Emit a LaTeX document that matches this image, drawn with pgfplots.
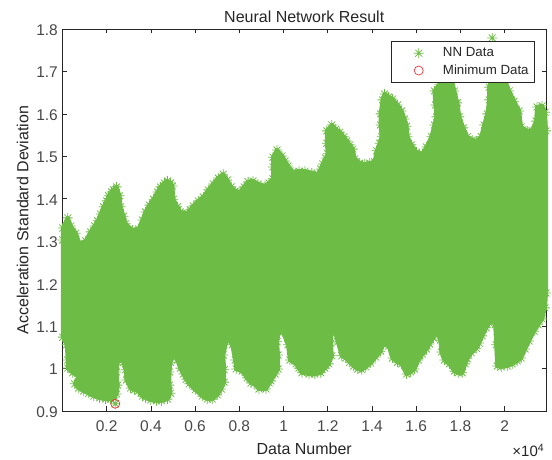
\documentclass[border=0pt]{standalone}
\usepackage{pgfplots}
\usepackage{pgfplotstable}
\pgfplotsset{compat=1.18}
\usepackage{fontspec}
\setmainfont{Liberation Sans}
\definecolor{nngreen}{RGB}{108,188,69}
\definecolor{axgray}{gray}{0.15}
\definecolor{minred}{RGB}{238,50,60}
\pgfdeclareplotmark{nnstar}{%
  \pgfsetroundcap
  \pgfpathmoveto{\pgfqpoint{-\pgfplotmarksize}{0pt}}\pgfpathlineto{\pgfqpoint{\pgfplotmarksize}{0pt}}%
  \pgfpathmoveto{\pgfqpoint{0pt}{-\pgfplotmarksize}}\pgfpathlineto{\pgfqpoint{0pt}{\pgfplotmarksize}}%
  \pgfpathmoveto{\pgfqpoint{-.707\pgfplotmarksize}{-.707\pgfplotmarksize}}\pgfpathlineto{\pgfqpoint{.707\pgfplotmarksize}{.707\pgfplotmarksize}}%
  \pgfpathmoveto{\pgfqpoint{-.707\pgfplotmarksize}{.707\pgfplotmarksize}}\pgfpathlineto{\pgfqpoint{.707\pgfplotmarksize}{-.707\pgfplotmarksize}}%
  \pgfusepathqstroke}
\pgfplotstableread{
x y
20 1.303
20 1.331
243 1.355
378 1.336
604 1.319
784 1.293
1054 1.301
1280 1.322
1460 1.336
1595 1.348
1730 1.364
1865 1.381
2000 1.395
2090 1.407
2225 1.416
2316 1.421
2451 1.428
2586 1.407
2631 1.381
2766 1.359
2856 1.341
3171 1.326
3442 1.329
3622 1.350
3757 1.369
3937 1.385
4118 1.399
4298 1.416
4433 1.428
4613 1.437
4748 1.442
4884 1.437
4974 1.430
5019 1.399
5199 1.381
5334 1.369
5649 1.366
5784 1.374
5920 1.383
6145 1.395
6370 1.404
6595 1.421
6821 1.435
7046 1.449
7271 1.458
7451 1.444
7631 1.428
7812 1.418
8037 1.416
8217 1.428
8397 1.440
8622 1.442
8848 1.435
9163 1.430
9343 1.437
9523 1.447
9523 1.475
9523 1.498
9704 1.515
9929 1.501
10064 1.489
10199 1.477
10425 1.463
10695 1.465
10965 1.465
11281 1.461
11551 1.458
11686 1.470
11776 1.482
11911 1.496
12001 1.506
11956 1.531
11956 1.560
12182 1.574
12362 1.564
12542 1.557
12722 1.546
12857 1.536
12992 1.527
13128 1.517
13218 1.494
13443 1.484
13668 1.482
13893 1.484
14119 1.487
14209 1.513
14344 1.531
14434 1.546
14389 1.574
14389 1.600
14479 1.633
14569 1.647
14749 1.640
14929 1.635
15154 1.621
15335 1.607
15470 1.588
15560 1.571
15605 1.546
15785 1.527
16010 1.510
16281 1.506
16461 1.522
16686 1.546
16821 1.574
16911 1.593
16866 1.621
16821 1.654
17046 1.670
17361 1.699
17586 1.685
17722 1.654
17857 1.626
17947 1.593
18127 1.567
18307 1.546
18532 1.538
18712 1.536
18938 1.546
19073 1.574
19208 1.600
19298 1.633
19298 1.663
19433 1.699
19749 1.715
20200 1.654
20425 1.630
20650 1.607
20740 1.569
21011 1.560
21236 1.560
21416 1.583
21461 1.616
21687 1.619
21822 1.604
21867 1.560
21867 1.178
21822 1.143
21687 1.117
21506 1.103
21326 1.088
21101 1.065
20920 1.046
20740 1.025
20560 1.018
20335 1.011
20110 1.006
19839 1.004
19659 1.006
19614 1.056
19569 1.103
19388 1.117
19298 1.107
19163 1.096
18983 1.077
18847 1.060
18712 1.048
18487 1.037
18307 1.023
18217 1.011
18082 0.990
17902 0.990
17722 0.994
17497 1.011
17271 1.020
17136 1.039
17091 1.067
16911 1.088
16776 1.072
16596 1.058
16461 1.046
16281 1.034
16100 1.020
15920 0.999
15740 0.992
15560 0.987
15335 1.011
15154 1.015
14929 1.025
14749 1.053
14524 1.058
14389 1.041
14164 1.027
13938 1.013
13713 1.004
13533 0.997
13353 0.999
13173 1.006
12992 1.015
12812 1.025
12632 1.030
12452 1.063
12317 1.088
12182 1.086
12137 1.060
12182 1.030
12047 1.011
11866 1.001
11686 0.990
11416 0.987
11146 0.987
10830 0.990
10695 1.001
10560 1.011
10289 1.020
10199 1.056
9974 1.086
9794 1.088
9704 1.063
9749 1.032
9749 0.999
9614 0.987
9434 0.971
9344 0.966
9209 0.952
8893 0.952
8668 0.964
8532 0.966
8352 0.978
8127 0.994
7857 0.999
7812 1.020
7677 1.056
7451 1.072
7271 1.032
7316 0.997
7316 0.968
7181 0.952
7000 0.938
6775 0.928
6550 0.928
6325 0.935
6010 0.950
5740 0.964
5605 0.975
5470 0.987
5334 1.001
5199 1.020
5019 1.032
4884 1.015
4839 0.992
4839 0.961
4884 0.942
4749 0.928
4478 0.924
4253 0.924
3992 0.926
3757 0.931
3622 0.935
3442 0.947
3261 0.950
3081 0.954
2901 0.973
2856 0.997
2766 1.015
2631 1.025
2496 1.015
2451 0.992
2496 0.961
2451 0.940
2316 0.931
2180 0.928
1955 0.928
1685 0.931
1415 0.935
1189 0.942
964 0.947
739 0.954
559 0.964
739 0.982
468 0.990
243 1.001
243 1.020
198 1.056
20 1.074
}\nnenvelope
\begin{document}
\begin{tikzpicture}
\useasboundingbox (-62.4pt,-49pt) rectangle (489.6pt,411pt);
\begin{axis}[
  scale only axis, width=483.7pt, height=382pt,
  xmin=1, xmax=21870, ymin=0.9, ymax=1.8,
  clip=false,
  axis line style={axgray, line width=0.7pt},
  tick style={axgray, line width=0.6pt},
  tick align=inside, major tick length=4.5pt,
  xtick={2000,4000,6000,8000,10000,12000,14000,16000,18000,20000},
  xticklabels={0.2,0.4,0.6,0.8,1,1.2,1.4,1.6,1.8,2},
  ytick={0.9,1,1.1,1.2,1.3,1.4,1.5,1.6,1.7,1.8},
  yticklabels={0.9,1,1.1,1.2,1.3,1.4,1.5,1.6,1.7,1.8},
  scaled ticks=false,
  tick label style={font=\fontsize{15.5}{16}\selectfont, text=axgray!85!white},
  xticklabel style={yshift=-6pt},
  yticklabel style={xshift=-1pt, yshift=-1pt},
  title={Neural Network Result},
  title style={font=\fontsize{16}{18}\selectfont, text=axgray, yshift=-3pt},
  xlabel={Data Number},
  xlabel style={font=\fontsize{16}{18}\selectfont, text=axgray, yshift=-5pt},
  ylabel={Acceleration Standard Deviation},
  ylabel style={font=\fontsize{16}{18}\selectfont, text=axgray, yshift=1pt},
  legend style={at={(0.679,0.9685)}, anchor=north west, font=\fontsize{13.3}{14}\selectfont,
    draw=axgray, line width=0.6pt, text=axgray, fill=white, inner xsep=4pt, inner ysep=4.5pt,
    row sep=2.5pt, legend cell align=left},
  legend image code/.code={%
    \draw[#1] plot coordinates {(23.3pt,0pt)};
    \path (0pt,0pt) (45.2pt,0pt);},
]
\addplot[forget plot, draw=nngreen, fill=nngreen, line width=4pt, line join=round] table[x=x,y=y] {\nnenvelope} -- cycle;
\addplot[only marks, mark=nnstar, mark size=4.7pt, nngreen, mark options={line width=0.8pt}] table[x=x,y=y] {\nnenvelope};
\addlegendentry{NN Data}
\addplot[only marks, forget plot, mark=nnstar, mark size=4.7pt, nngreen, mark options={line width=0.8pt}] coordinates {(19433,1.779) (2390,0.917)};
\addplot[only marks, mark=o, mark size=4.5pt, minred, mark options={line width=0.7pt, fill=none}] coordinates {(2390,0.917)};
\addlegendentry{Minimum Data}
\node[anchor=base west, inner sep=0pt, font=\fontsize{15}{16}\selectfont, text=axgray] at (axis description cs:0.93,-0.119) {×10\textsuperscript{4}};
\end{axis}
\end{tikzpicture}
\end{document}
